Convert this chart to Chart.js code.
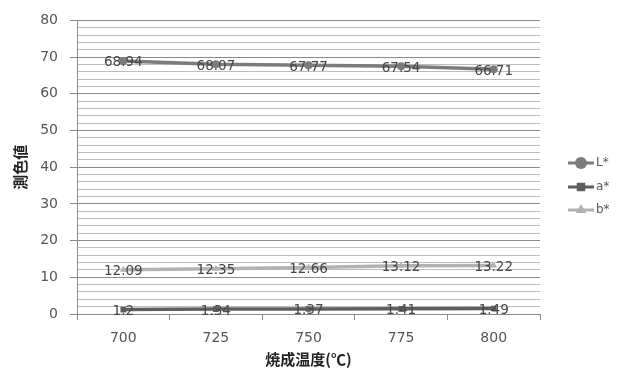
<!DOCTYPE html>
<html>
<head>
<meta charset="utf-8">
<script src="https://cdn.jsdelivr.net/npm/chart.js@4"></script>
<style>
  html, body { margin: 0; padding: 0; background: #fff; }
  #wrap { width: 629px; height: 372px; }
</style>
</head>
<body>
<div id="wrap"><canvas id="chart"></canvas></div>
<script>
// Chart data.
const temps = ['700', '725', '750', '775', '800'];
const seriesNames = ['L*', 'a*', 'b*'];
const valuesL = [68.94, 68.07, 67.77, 67.54, 66.71];
const valuesA = [1.2, 1.34, 1.37, 1.41, 1.49];
const valuesB = [12.09, 12.35, 12.66, 13.12, 13.22];
const labelsA = ['1.2', '1.34', '1.37', '1.41', '1.49'];

const lineColors = ['#7c7c7c', '#5e5e5e', '#b2b2b2'];
const pointStyles = ['circle', 'rect', 'triangle'];
const font = '"DejaVu Sans", Verdana, sans-serif';
const cjkFont = '"Noto Sans CJK JP", sans-serif';

// Draws each value centred on its point, like the original labels.
const valueLabels = {
  id: 'valueLabels',
  afterDatasetsDraw(chart) {
    const ctx = chart.ctx;
    ctx.save();
    ctx.font = '13.5px ' + font;
    ctx.fillStyle = '#474747';
    ctx.textAlign = 'center';
    ctx.textBaseline = 'middle';
    chart.data.datasets.forEach((ds, i) => {
      const meta = chart.getDatasetMeta(i);
      meta.data.forEach((pt, j) => {
        const txt = ds.labelTexts ? ds.labelTexts[j] : ds.data[j].toFixed(2);
        ctx.fillText(txt, pt.x, pt.y + 2);
      });
    });
    ctx.restore();
  },
};

// Legend on the right: short line with the marker in its middle.
const sideLegend = {
  id: 'sideLegend',
  afterDraw(chart) {
    const ctx = chart.ctx;
    const x0 = 568;
    const rows = [163, 187, 210];
    ctx.save();
    chart.data.datasets.forEach((ds, i) => {
      const y = rows[i];
      ctx.strokeStyle = lineColors[i];
      ctx.lineWidth = 3;
      ctx.beginPath();
      ctx.moveTo(x0, y);
      ctx.lineTo(x0 + 26, y);
      ctx.stroke();
      ctx.fillStyle = lineColors[i];
      Chart.helpers.drawPoint(ctx, { pointStyle: pointStyles[i], radius: 6, borderWidth: 0 }, x0 + 13, y);
      ctx.fillStyle = '#595959';
      ctx.font = '12px ' + font;
      ctx.textBaseline = 'middle';
      ctx.fillText(ds.label, x0 + 28, y);
    });
    ctx.restore();
  },
};

const makeSet = (i, data) => ({
  label: seriesNames[i],
  data: data,
  borderColor: lineColors[i],
  backgroundColor: lineColors[i],
  borderWidth: 3.5,
  pointStyle: pointStyles[i],
  pointRadius: 4,
  pointBorderWidth: 0,
  tension: 0,
});

const datasets = [makeSet(0, valuesL), makeSet(1, valuesA), makeSet(2, valuesB)];
datasets[1].labelTexts = labelsA;

new Chart(document.getElementById('chart'), {
  type: 'line',
  data: { labels: temps, datasets: datasets },
  plugins: [valueLabels, sideLegend],
  options: {
    responsive: true,
    maintainAspectRatio: false,
    animation: false,
    layout: { padding: { top: 16, right: 89, bottom: 4, left: 4 } },
    plugins: {
      legend: { display: false },
      tooltip: { enabled: false },
    },
    scales: {
      x: {
        offset: true,
        afterFit: (s) => { s.height = 54; },
        grid: {
          offset: true,
          drawOnChartArea: false,
          tickLength: 6,
          tickColor: '#8a8a8a',
        },
        border: { color: '#8a8a8a' },
        ticks: { color: '#555', font: { size: 14, family: font }, padding: 10 },
        title: {
          display: true,
          text: '焼成温度(℃)',
          color: '#222',
          font: { size: 15, weight: 'bold', family: cjkFont },
          padding: { top: 0, bottom: 0 },
        },
      },
      y: {
        min: 0,
        max: 80,
        afterFit: (s) => { s.width = 73; },
        grid: {
          color: (c) => (c.tick && c.tick.value % 10 === 0 ? '#8a8a8a' : '#bdbdbd'),
          tickColor: (c) => (c.tick && c.tick.value % 10 === 0 ? '#8a8a8a' : 'rgba(0,0,0,0)'),
          tickLength: 7,
        },
        border: { color: '#8a8a8a' },
        ticks: {
          stepSize: 2,
          autoSkip: false,
          color: '#555',
          font: { size: 14, family: font },
          padding: 12,
          callback: (v) => (v % 10 === 0 ? v : ''),
        },
        title: {
          display: true,
          text: '測色値',
          color: '#222',
          font: { size: 15, weight: 'bold', family: cjkFont },
          padding: { top: 7, bottom: 2 },
        },
      },
    },
  },
});
</script>
</body>
</html>
